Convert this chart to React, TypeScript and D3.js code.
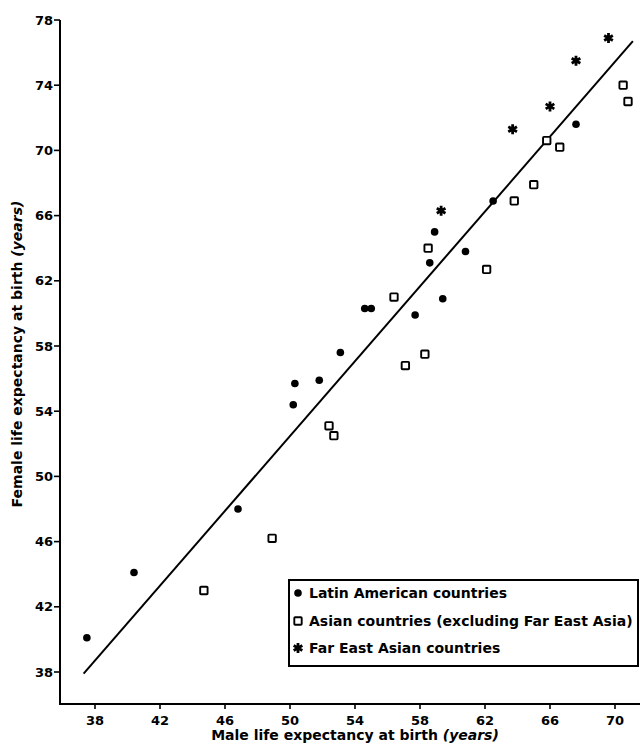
import * as d3 from "d3";

const WIDTH = 640;
const HEIGHT = 744;

// Latin American countries (male, female life expectancy)
const latinMale = [37.5, 40.4, 46.8, 50.2, 50.3, 51.8, 53.1, 54.6, 55.0, 57.7, 58.6, 58.9, 59.4, 60.8, 62.5, 67.6];
const latinFemale = [40.1, 44.1, 48.0, 54.4, 55.7, 55.9, 57.6, 60.3, 60.3, 59.9, 63.1, 65.0, 60.9, 63.8, 66.9, 71.6];

// Asian countries (excluding Far East Asia)
const asianMale = [44.7, 48.9, 52.4, 52.7, 56.4, 57.1, 58.3, 58.5, 62.1, 63.8, 65.0, 65.8, 66.6, 70.5, 70.8];
const asianFemale = [43.0, 46.2, 53.1, 52.5, 61.0, 56.8, 57.5, 64.0, 62.7, 66.9, 67.9, 70.6, 70.2, 74.0, 73.0];

// Far East Asian countries
const farEastMale = [59.3, 63.7, 66.0, 67.6, 69.6];
const farEastFemale = [66.3, 71.3, 72.7, 75.5, 76.9];

// fitted line end points
const fitMale = [37.3, 71.1];
const fitFemale = [37.9, 76.7];

const xTicks = [38, 42, 46, 50, 54, 58, 62, 66, 70];
const yTicks = [38, 42, 46, 50, 54, 58, 62, 66, 70, 74, 78];

const legendLabels = [
  "Latin American countries",
  "Asian countries (excluding Far East Asia)",
  "Far East Asian countries",
];

const FONT = "'DejaVu Sans', 'Liberation Sans', Arial, sans-serif";

export default function App() {
  const x = d3.scaleLinear().domain([38, 70]).range([95, 615]);
  const y = d3.scaleLinear().domain([38, 78]).range([672, 20]);
  const axisX = 60;
  const axisY = 704;

  const zip = (a: number[], b: number[]) => a.map((v, i) => [v, b[i]] as [number, number]);
  const latin = zip(latinMale, latinFemale);
  const asian = zip(asianMale, asianFemale);
  const farEast = zip(farEastMale, farEastFemale);

  const line = d3
    .line<[number, number]>()
    .x((d) => x(d[0]))
    .y((d) => y(d[1]));

  const star = d3.symbol(d3.symbolAsterisk, 70)() ?? "";

  const circle = (cx: number, cy: number, key: string | number) => (
    <circle key={key} cx={cx} cy={cy} r={3.8} fill="#000" />
  );
  const square = (cx: number, cy: number, key: string | number) => (
    <rect
      key={key}
      x={cx - 3.7}
      y={cy - 3.7}
      width={7.4}
      height={7.4}
      fill="#fff"
      stroke="#000"
      strokeWidth={1.9}
      rx={0.8}
    />
  );
  const asterisk = (cx: number, cy: number, key: string | number) => (
    <path key={key} d={star} transform={`translate(${cx},${cy})`} fill="none" stroke="#000" strokeWidth={2.8} />
  );

  const legendRows = [593, 621, 648];

  return (
    <svg
      width={WIDTH}
      height={HEIGHT}
      viewBox={`0 0 ${WIDTH} ${HEIGHT}`}
      style={{ position: "absolute", left: 0, top: 0, background: "#fff" }}
      fontFamily={FONT}
      fontWeight="bold"
    >
      {/* axes */}
      <line x1={axisX} x2={axisX} y1={y(78)} y2={axisY} stroke="#000" strokeWidth={2} />
      <line x1={axisX - 1} x2={WIDTH} y1={axisY} y2={axisY} stroke="#000" strokeWidth={2} />

      {yTicks.map((t) => (
        <g key={`y${t}`}>
          <line x1={axisX - 6} x2={axisX} y1={y(t)} y2={y(t)} stroke="#000" strokeWidth={1.6} />
          <text x={axisX - 7} y={y(t)} dy="0.36em" textAnchor="end" fontSize={13}>
            {t}
          </text>
        </g>
      ))}
      {xTicks.map((t) => (
        <g key={`x${t}`}>
          <line x1={x(t)} x2={x(t)} y1={axisY} y2={axisY + 5} stroke="#000" strokeWidth={1.6} />
          <text x={x(t)} y={axisY + 21} textAnchor="middle" fontSize={13}>
            {t}
          </text>
        </g>
      ))}

      {/* axis titles */}
      <text x={355} y={740} textAnchor="middle" fontSize={14}>
        Male life expectancy at birth <tspan fontStyle="italic">(years)</tspan>
      </text>
      <text transform={`translate(22,354) rotate(-90)`} textAnchor="middle" fontSize={14}>
        Female life expectancy at birth <tspan fontStyle="italic">(years)</tspan>
      </text>

      {/* fitted line */}
      <path d={line(zip(fitMale, fitFemale)) ?? ""} fill="none" stroke="#000" strokeWidth={2} />

      {/* points */}
      {latin.map((d, i) => circle(x(d[0]), y(d[1]), `l${i}`))}
      {asian.map((d, i) => square(x(d[0]), y(d[1]), `a${i}`))}
      {farEast.map((d, i) => asterisk(x(d[0]), y(d[1]), `f${i}`))}

      {/* legend */}
      <rect x={289} y={580} width={349} height={86} fill="#fff" stroke="#000" strokeWidth={2} />
      {circle(298, legendRows[0], "lg0")}
      {square(298, legendRows[1], "lg1")}
      {asterisk(298, legendRows[2], "lg2")}
      {legendLabels.map((label, i) => (
        <text key={label} x={309} y={legendRows[i]} dy="0.36em" fontSize={14}>
          {label}
        </text>
      ))}
    </svg>
  );
}
